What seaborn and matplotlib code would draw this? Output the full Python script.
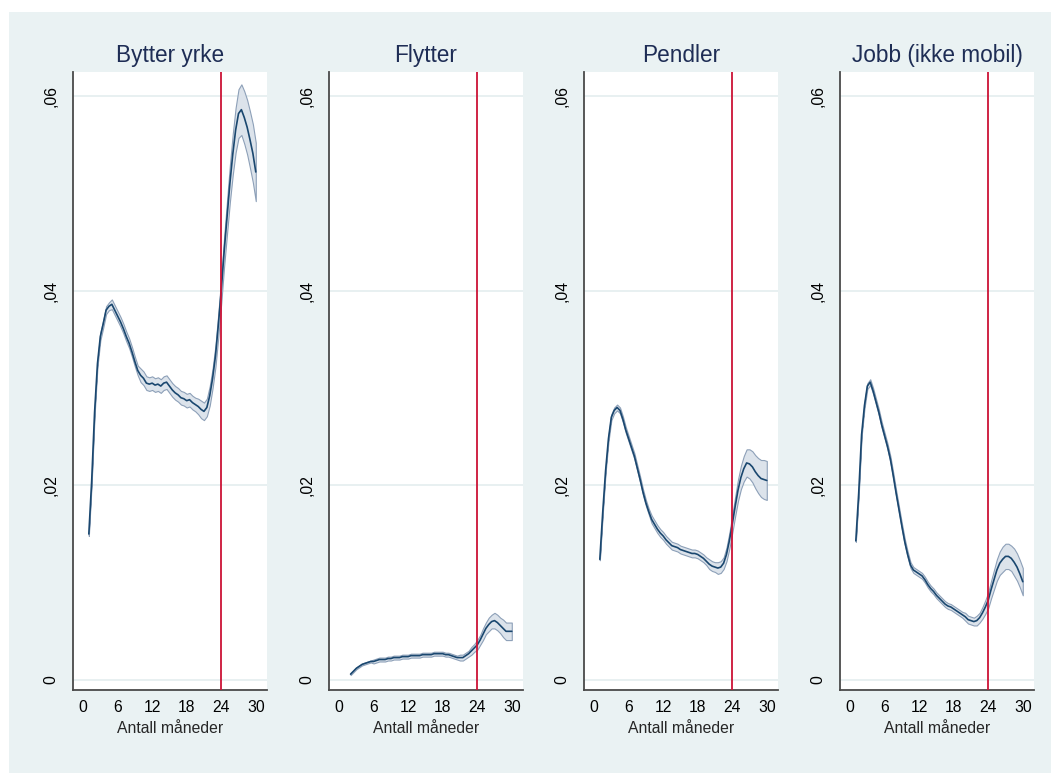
import numpy as np
import pandas as pd
import matplotlib
matplotlib.use("Agg")
import matplotlib.pyplot as plt
import seaborn as sns
from matplotlib.patches import Rectangle

# ---------------- data ----------------
titles = ["Bytter yrke", "Flytter", "Pendler", "Jobb (ikke mobil)"]
x_ticks = [0, 6, 12, 18, 24, 30]
y_ticks = [0, 0.02, 0.04, 0.06]
y_tick_labels = ["0", ",02", ",04", ",06"]
x_label = "Antall måneder"
cutoff = 24

months_full = np.arange(1.0, 30.01, 0.5)   # 1 .. 30
months_flytter = np.arange(2.0, 30.01, 0.5)  # 2 .. 30

bytter = [0.0150, 0.0205, 0.0275, 0.0325, 0.0353, 0.0366, 0.0380, 0.0384,
          0.0386, 0.0380, 0.0374, 0.0368, 0.0361, 0.0353, 0.0346, 0.0337,
          0.0327, 0.0318, 0.0313, 0.0310, 0.0305, 0.0304, 0.0305, 0.0303,
          0.0304, 0.0302, 0.0305, 0.0306, 0.0302, 0.0298, 0.0295, 0.0293,
          0.0290, 0.0289, 0.0287, 0.0288, 0.0285, 0.0283, 0.0281, 0.0278,
          0.0276, 0.0280, 0.0292, 0.0310, 0.0333, 0.0365, 0.0400, 0.0440,
          0.0475, 0.0510, 0.0540, 0.0565, 0.0582, 0.0586, 0.0578, 0.0568,
          0.0555, 0.0541, 0.0522]
bytter_ci = ([0.0002, 0.0002, 0.0003, 0.0003] + [0.0004] * 4 + [0.0005] * 10
             + [0.0007] * 20 + [0.0008, 0.0009, 0.0009, 0.0009]
             + [0.0010, 0.0010, 0.0011, 0.0012]
             + [0.0013, 0.0015, 0.0017, 0.0019]
             + [0.0021, 0.0023, 0.0025, 0.0026]
             + [0.0027, 0.0028, 0.0029, 0.0030, 0.0030])

flytter = [0.0006, 0.0009, 0.0012, 0.0014, 0.0016, 0.0017, 0.0018, 0.0019,
           0.0019, 0.0020, 0.0021, 0.0021, 0.0021, 0.0022, 0.0022, 0.0023,
           0.0023, 0.0023, 0.0024, 0.0024, 0.0024, 0.0025, 0.0025, 0.0025,
           0.0025, 0.0026, 0.0026, 0.0026, 0.0026, 0.0027, 0.0027, 0.0027,
           0.0027, 0.0026, 0.0026, 0.0025, 0.0024, 0.0023, 0.0023, 0.0023,
           0.0025, 0.0027, 0.0030, 0.0033, 0.0036, 0.0041, 0.0047, 0.0053,
           0.0057, 0.0060, 0.0061, 0.0059, 0.0056, 0.0053, 0.0050, 0.0050,
           0.0050]
flytter_ci = ([0.0001] * 8 + [0.0002] * 28
              + [0.0002, 0.0002, 0.0003, 0.0003, 0.0003, 0.0003, 0.0004, 0.0004]
              + [0.0005, 0.0005, 0.0006, 0.0006, 0.0007, 0.0007, 0.0008, 0.0008]
              + [0.0008, 0.0009, 0.0009, 0.0009, 0.0009])

pendler = [0.0124, 0.0172, 0.0215, 0.0248, 0.0270, 0.0277, 0.0280, 0.0277,
           0.0268, 0.0257, 0.0248, 0.0239, 0.0230, 0.0218, 0.0206, 0.0193,
           0.0182, 0.0173, 0.0165, 0.0160, 0.0155, 0.0151, 0.0148, 0.0144,
           0.0141, 0.0138, 0.0137, 0.0136, 0.0134, 0.0133, 0.0132, 0.0131,
           0.0130, 0.0130, 0.0129, 0.0127, 0.0125, 0.0122, 0.0119, 0.0117,
           0.0116, 0.0115, 0.0116, 0.0120, 0.0129, 0.0143, 0.0160, 0.0178,
           0.0195, 0.0208, 0.0217, 0.0223, 0.0222, 0.0219, 0.0214, 0.0210,
           0.0207, 0.0206, 0.0205]
pendler_ci = ([0.0001, 0.0002, 0.0002, 0.0003] + [0.0003] * 14 + [0.0004] * 20
              + [0.0005, 0.0005, 0.0005, 0.0006, 0.0006, 0.0006, 0.0007, 0.0008]
              + [0.0009, 0.0010, 0.0011, 0.0012, 0.0013, 0.0014, 0.0015, 0.0016]
              + [0.0017, 0.0018, 0.0019, 0.0020, 0.0020])

jobb = [0.0143, 0.0192, 0.0252, 0.0282, 0.0302, 0.0306, 0.0297, 0.0286,
        0.0275, 0.0262, 0.0251, 0.0240, 0.0227, 0.0210, 0.0192, 0.0175,
        0.0158, 0.0142, 0.0129, 0.0118, 0.0113, 0.0111, 0.0109, 0.0107,
        0.0103, 0.0098, 0.0094, 0.0091, 0.0087, 0.0084, 0.0081, 0.0078,
        0.0076, 0.0075, 0.0073, 0.0071, 0.0069, 0.0067, 0.0065, 0.0062,
        0.0061, 0.0060, 0.0061, 0.0064, 0.0069, 0.0075, 0.0082, 0.0093,
        0.0103, 0.0113, 0.0120, 0.0124, 0.0127, 0.0127, 0.0125, 0.0121,
        0.0116, 0.0109, 0.0101]
jobb_ci = ([0.0001, 0.0002, 0.0002, 0.0003] + [0.0003] * 34
           + [0.0004, 0.0004, 0.0004, 0.0004, 0.0005, 0.0005, 0.0006, 0.0007]
           + [0.0008, 0.0009, 0.0010, 0.0011, 0.0012, 0.0013, 0.0013, 0.0013]
           + [0.0013, 0.0014, 0.0014, 0.0014, 0.0014])

series = [
    (months_full, bytter, bytter_ci),
    (months_flytter, flytter, flytter_ci),
    (months_full, pendler, pendler_ci),
    (months_full, jobb, jobb_ci),
]

# ---------------- style ----------------
sns.set_style("white")
plt.rcParams["font.family"] = ["Liberation Sans", "DejaVu Sans"]

BG = "#EAF2F3"
LINE = "#1A476F"
BAND = "#DCE3EB"
BAND_EDGE = "#8DA0B8"
RED = "#CC1236"
AXIS = "#4A4A4A"
TITLE_C = "#1E2D55"

W, H = 1051, 773
fig = plt.figure(figsize=(W / 100, H / 100), dpi=100)
fig.patch.set_facecolor("white")
fig.add_artist(Rectangle((9 / W, 0), 1 - 9 / W, 1 - 12 / H,
                         transform=fig.transFigure, facecolor=BG,
                         edgecolor="none", zorder=-10))

lefts = [73, 329, 584, 840]
ax_w = 194
top_px, bot_px = 72, 690

for i, (title, (mx, vals, ci)) in enumerate(zip(titles, series)):
    ax = fig.add_axes([lefts[i] / W, (H - bot_px) / H, ax_w / W,
                       (bot_px - top_px) / H])
    ax.set_facecolor("white")
    vals = np.asarray(vals)
    ci = np.asarray(ci)
    df = pd.DataFrame({"month": mx, "value": vals})

    for yv in y_ticks:
        ax.axhline(yv, color="#E6EFF0", lw=1.3, zorder=0)

    ax.fill_between(mx, vals - ci, vals + ci, facecolor=BAND,
                    edgecolor=BAND_EDGE, lw=0.8, zorder=2)
    sns.lineplot(data=df, x="month", y="value", ax=ax, color=LINE,
                 lw=1.2, zorder=3)
    ax.axvline(cutoff, color=RED, lw=1.3, zorder=4)

    ax.set_xlim(-1.75, 31.95)
    ax.set_ylim(-0.00103, 0.06247)
    ax.set_xticks(x_ticks)
    ax.set_xticklabels([str(t) for t in x_ticks])
    ax.set_yticks(y_ticks)
    ax.set_yticklabels(y_tick_labels, rotation=90, va="center")

    for side in ["top", "right"]:
        ax.spines[side].set_visible(False)
    for side in ["left", "bottom"]:
        ax.spines[side].set_color(AXIS)
        ax.spines[side].set_linewidth(1.3)

    ax.tick_params(axis="both", direction="out", length=4.5, width=1.0,
                   color=AXIS, labelsize=11.3, labelcolor="black")
    ax.tick_params(axis="y", pad=6)
    ax.tick_params(axis="x", pad=3)
    ax.set_xlabel(x_label, fontsize=11.3, labelpad=4)
    ax.set_ylabel("")
    ax.set_title(title, fontsize=16.3, color=TITLE_C, pad=7)

fig.savefig("out.png", dpi=100, facecolor=fig.get_facecolor())
